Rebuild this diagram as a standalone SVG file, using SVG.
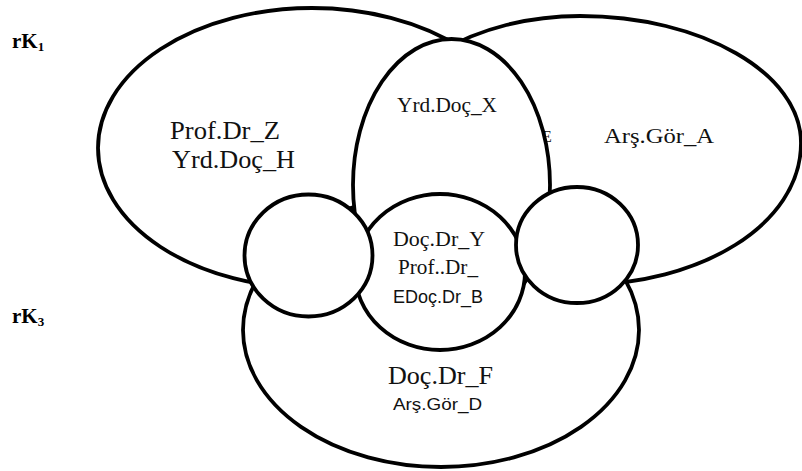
<svg xmlns="http://www.w3.org/2000/svg" width="802" height="471" viewBox="0 0 802 471">
  <style>
    .set { fill: #fff; stroke: #000; stroke-width: 3.8; }
    .serif { font-family: "Liberation Serif", "Times New Roman", serif; fill: #111; }
    .sans { font-family: "Liberation Sans", Arial, sans-serif; fill: #111; }
    .tag { font-family: "Liberation Serif", "Times New Roman", serif; font-weight: bold; fill: #000; }
  </style>
  <rect width="802" height="471" fill="#fff"/>

  <!-- set labels -->
  <g id="label-rk1">
    <text class="tag" x="12" y="48" font-size="21">rK<tspan font-size="13" dy="3">1</tspan></text>
  </g>
  <g id="label-rk3">
    <text class="tag" x="12" y="323" font-size="21">rK<tspan font-size="13" dy="3">3</tspan></text>
  </g>

  <!-- upper-left set -->
  <g id="set-left">
    <ellipse class="set" cx="312" cy="148" rx="214" ry="140"/>
    <text class="serif" x="170" y="139" font-size="25" textLength="110" lengthAdjust="spacingAndGlyphs">Prof.Dr_Z</text>
    <text class="serif" x="172" y="168" font-size="25" textLength="123" lengthAdjust="spacingAndGlyphs">Yrd.Doç_H</text>
  </g>

  <!-- upper-right set (egg-shaped outline, hidden part runs under the inner shapes) -->
  <g id="set-right">
    <path class="set" d="M440 52 C480 28 530 16 580 16 C701.5 16 801 73 801 143 C801 225 700 285 580 285 L450 270 L450 150 Z"/>
    <text class="serif" x="542" y="142" font-size="16">E</text>
    <text class="serif" x="604" y="143" font-size="21" textLength="110" lengthAdjust="spacingAndGlyphs">Arş.Gör_A</text>
  </g>

  <!-- lower set -->
  <g id="set-bottom">
    <ellipse class="set" cx="441" cy="330" rx="198" ry="137"/>
    <text class="serif" x="388" y="384" font-size="26" textLength="105" lengthAdjust="spacingAndGlyphs">Doç.Dr_F</text>
    <text class="sans" x="393" y="410" font-size="16" textLength="89" lengthAdjust="spacingAndGlyphs">Arş.Gör_D</text>
  </g>

  <!-- upper middle oval -->
  <g id="set-middle">
    <ellipse class="set" cx="451.5" cy="185" rx="98.5" ry="146"/>
    <text class="serif" x="397" y="112" font-size="21" textLength="100" lengthAdjust="spacingAndGlyphs">Yrd.Doç_X</text>
  </g>

  <!-- central intersection -->
  <g id="set-core">
    <ellipse class="set" cx="440" cy="272" rx="85" ry="78"/>
    <text class="serif" x="393" y="246" font-size="21" textLength="92" lengthAdjust="spacingAndGlyphs">Doç.Dr_Y</text>
    <text class="serif" x="398" y="274" font-size="21" textLength="80" lengthAdjust="spacingAndGlyphs">Prof..Dr_</text>
    <text class="sans" x="393" y="303" font-size="17.5" textLength="90" lengthAdjust="spacingAndGlyphs">EDoç.Dr_B</text>
  </g>

  <!-- side circles -->
  <g id="set-link-left">
    <ellipse class="set" cx="308.5" cy="255.5" rx="64" ry="61"/>
  </g>
  <g id="set-link-right">
    <ellipse class="set" cx="577" cy="245" rx="61" ry="58"/>
  </g>
</svg>
